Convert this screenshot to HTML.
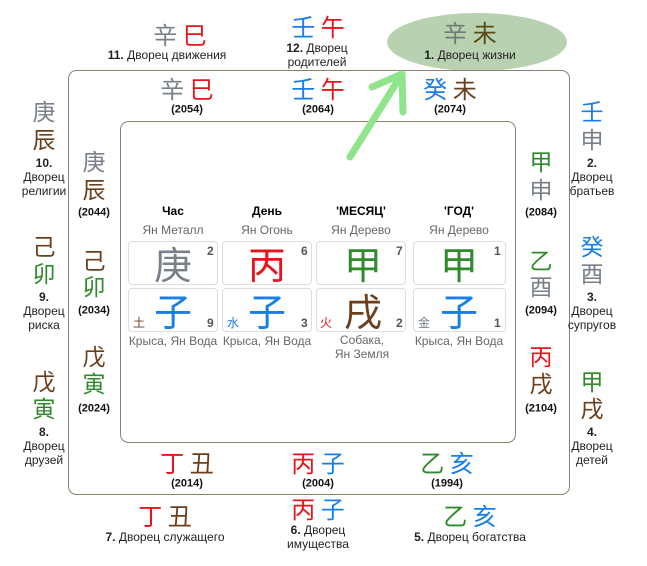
<!DOCTYPE html>
<html><head><meta charset="utf-8"><style>
body{margin:0;width:647px;height:566px;background:#fff;position:relative;overflow:hidden;font-family:"Liberation Sans","Noto Sans CJK SC",sans-serif}
.c{position:absolute;transform:translate(-50%,-50%);white-space:nowrap;text-align:center;line-height:1}
.h{font-family:"Noto Sans CJK SC",sans-serif;font-size:24px}
.v{font-family:"Noto Sans CJK SC",sans-serif;font-size:23px}
.s{font-size:12px;color:#222;line-height:14px}
.y{font-size:11px;font-weight:bold;color:#111}
.g{color:#7a8088}.r{color:#e8141c}.b{color:#1a7ee8}.br{color:#6b3f1c}.gr{color:#2e8a2a}
.box{position:absolute;border:1px solid #ddd;border-radius:4px;box-sizing:border-box}
.big{font-family:"Noto Sans CJK SC",sans-serif;font-size:38px}
.n{position:absolute;font-size:12px;font-weight:bold;color:#555}
.el{position:absolute;font-family:"Noto Sans CJK SC",sans-serif;font-size:12px}
.t{font-size:12px;color:#666}
</style></head><body>
<svg width="647" height="566" style="position:absolute;left:0;top:0">
<ellipse cx="477" cy="42" rx="90" ry="29" fill="#b8d1b0"/>
<rect x="68.5" y="70.5" width="501" height="424" rx="8" fill="none" stroke="#8a8070" stroke-width="1"/>
<rect x="120.5" y="121.5" width="395" height="321" rx="8" fill="none" stroke="#8a8070" stroke-width="1"/>
<g stroke="#90e48c" stroke-width="7" stroke-linecap="round" fill="none">
<line x1="350" y1="157" x2="402" y2="74"/><line x1="402" y1="74" x2="372" y2="87"/><line x1="402" y1="74" x2="403" y2="112"/>
</g>
</svg>
<!-- top outer -->
<div class="c h" style="left:180px;top:34px"><span class="g">辛</span> <span class="r">巳</span></div>
<div class="c s" style="left:167px;top:55px"><b>11.</b> Дворец движения</div>
<div class="c h" style="left:318px;top:26px"><span class="b">壬</span> <span class="r">午</span></div>
<div class="c s" style="left:317px;top:55px"><b>12.</b> Дворец<br>родителей</div>
<div class="c h" style="left:470px;top:32px"><span style="color:#6f7c72">辛</span> <span style="color:#5a4a14">未</span></div>
<div class="c s" style="left:470px;top:55px"><b>1.</b> Дворец жизни</div>
<!-- top inner -->
<div class="c h" style="left:187px;top:88px"><span class="g">辛</span> <span class="r">巳</span></div>
<div class="c y" style="left:187px;top:110px">(2054)</div>
<div class="c h" style="left:318px;top:88px"><span class="b">壬</span> <span class="r">午</span></div>
<div class="c y" style="left:318px;top:110px">(2064)</div>
<div class="c h" style="left:450px;top:88px"><span class="b">癸</span> <span class="br">未</span></div>
<div class="c y" style="left:450px;top:110px">(2074)</div>
<!-- left outer -->
<div class="c v" style="left:44px;top:124px;line-height:28px"><span class="g">庚</span><br><span class="br">辰</span></div>
<div class="c s" style="left:44px;top:177px"><b>10.</b><br>Дворец<br>религии</div>
<div class="c v" style="left:44px;top:259px;line-height:27px"><span class="br">己</span><br><span class="gr">卯</span></div>
<div class="c s" style="left:44px;top:311px"><b>9.</b><br>Дворец<br>риска</div>
<div class="c v" style="left:44px;top:394px;line-height:27px"><span class="br">戊</span><br><span class="gr">寅</span></div>
<div class="c s" style="left:44px;top:446px"><b>8.</b><br>Дворец<br>друзей</div>
<!-- left inner -->
<div class="c v" style="left:94px;top:174px;line-height:28px"><span class="g">庚</span><br><span class="br">辰</span></div>
<div class="c y" style="left:94px;top:213px">(2044)</div>
<div class="c v" style="left:94px;top:272px;line-height:26px"><span class="br">己</span><br><span class="gr">卯</span></div>
<div class="c y" style="left:94px;top:311px">(2034)</div>
<div class="c v" style="left:94px;top:369px;line-height:27px"><span class="br">戊</span><br><span class="gr">寅</span></div>
<div class="c y" style="left:94px;top:409px">(2024)</div>
<!-- right inner -->
<div class="c v" style="left:541px;top:174px;line-height:28px"><span class="gr">甲</span><br><span class="g">申</span></div>
<div class="c y" style="left:541px;top:213px">(2084)</div>
<div class="c v" style="left:541px;top:272px;line-height:26px"><span class="gr">乙</span><br><span class="g">酉</span></div>
<div class="c y" style="left:541px;top:311px">(2094)</div>
<div class="c v" style="left:541px;top:369px;line-height:27px"><span class="r">丙</span><br><span class="br">戌</span></div>
<div class="c y" style="left:541px;top:409px">(2104)</div>
<!-- right outer -->
<div class="c v" style="left:592px;top:124px;line-height:28px"><span class="b">壬</span><br><span class="g">申</span></div>
<div class="c s" style="left:592px;top:177px"><b>2.</b><br>Дворец<br>братьев</div>
<div class="c v" style="left:592px;top:259px;line-height:27px"><span class="b">癸</span><br><span class="g">酉</span></div>
<div class="c s" style="left:592px;top:311px"><b>3.</b><br>Дворец<br>супругов</div>
<div class="c v" style="left:592px;top:394px;line-height:27px"><span class="gr">甲</span><br><span class="br">戌</span></div>
<div class="c s" style="left:592px;top:446px"><b>4.</b><br>Дворец<br>детей</div>
<!-- bottom inner -->
<div class="c h" style="left:187px;top:462px"><span class="r">丁</span> <span class="br">丑</span></div>
<div class="c y" style="left:187px;top:484px">(2014)</div>
<div class="c h" style="left:318px;top:462px"><span class="r">丙</span> <span class="b">子</span></div>
<div class="c y" style="left:318px;top:484px">(2004)</div>
<div class="c h" style="left:447px;top:462px"><span class="gr">乙</span> <span class="b">亥</span></div>
<div class="c y" style="left:447px;top:484px">(1994)</div>
<!-- bottom outer -->
<div class="c h" style="left:165px;top:515px"><span class="r">丁</span> <span class="br">丑</span></div>
<div class="c s" style="left:165px;top:537px"><b>7.</b> Дворец служащего</div>
<div class="c h" style="left:318px;top:508px"><span class="r">丙</span> <span class="b">子</span></div>
<div class="c s" style="left:318px;top:537px"><b>6.</b> Дворец<br>имущества</div>
<div class="c h" style="left:470px;top:515px"><span class="gr">乙</span> <span class="b">亥</span></div>
<div class="c s" style="left:470px;top:537px"><b>5.</b> Дворец богатства</div>
<!-- pillars -->
<div class="c" style="left:173px;top:211px;font-size:12px;font-weight:bold">Час</div>
<div class="c" style="left:267px;top:211px;font-size:12px;font-weight:bold">День</div>
<div class="c" style="left:361px;top:211px;font-size:12px;font-weight:bold">'МЕСЯЦ'</div>
<div class="c" style="left:459px;top:211px;font-size:12px;font-weight:bold">'ГОД'</div>
<div class="c t" style="left:173px;top:230px">Ян Металл</div>
<div class="c t" style="left:267px;top:230px">Ян Огонь</div>
<div class="c t" style="left:361px;top:230px">Ян Дерево</div>
<div class="c t" style="left:459px;top:230px">Ян Дерево</div>

<div class="box" style="left:128px;top:241px;width:90px;height:44px"></div>
<div class="box" style="left:222px;top:241px;width:90px;height:44px"></div>
<div class="box" style="left:316px;top:241px;width:90px;height:44px"></div>
<div class="box" style="left:413px;top:241px;width:93px;height:44px"></div>
<div class="box" style="left:128px;top:288px;width:90px;height:44px"></div>
<div class="box" style="left:222px;top:288px;width:90px;height:44px"></div>
<div class="box" style="left:316px;top:288px;width:90px;height:44px"></div>
<div class="box" style="left:413px;top:288px;width:93px;height:44px"></div>

<div class="c big g" style="left:173px;top:263px">庚</div>
<div class="c big r" style="left:267px;top:263px">丙</div>
<div class="c big gr" style="left:363px;top:263px">甲</div>
<div class="c big gr" style="left:459px;top:263px">甲</div>
<div class="c big b" style="left:173px;top:310px">子</div>
<div class="c big b" style="left:267px;top:310px">子</div>
<div class="c big br" style="left:363px;top:310px">戌</div>
<div class="c big b" style="left:459px;top:310px">子</div>
<div class="n" style="left:207px;top:244px">2</div>
<div class="n" style="left:301px;top:244px">6</div>
<div class="n" style="left:396px;top:244px">7</div>
<div class="n" style="left:494px;top:244px">1</div>
<div class="n" style="left:207px;top:316px">9</div>
<div class="n" style="left:301px;top:316px">3</div>
<div class="n" style="left:396px;top:316px">2</div>
<div class="n" style="left:494px;top:316px">1</div>
<div class="el br" style="left:133px;top:314px">土</div>
<div class="el b" style="left:227px;top:314px">水</div>
<div class="el r" style="left:320px;top:314px">火</div>
<div class="el g" style="left:418px;top:314px">金</div>
<div class="c t" style="left:173px;top:341px">Крыса, Ян Вода</div>
<div class="c t" style="left:267px;top:341px">Крыса, Ян Вода</div>
<div class="c t" style="left:362px;top:347px;line-height:14px">Собака,<br>Ян Земля</div>
<div class="c t" style="left:459px;top:341px">Крыса, Ян Вода</div>
</body></html>
